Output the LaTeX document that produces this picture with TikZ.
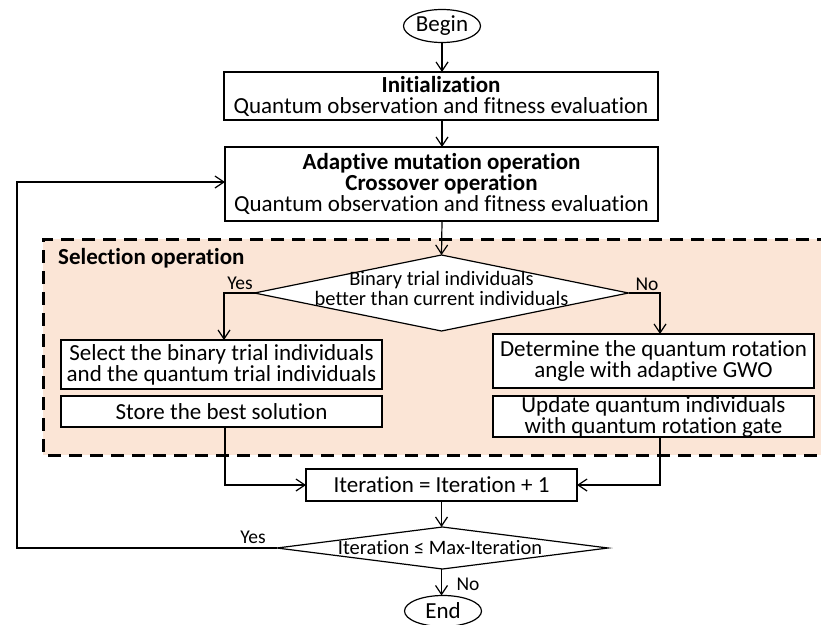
\documentclass[tikz,border=0pt]{standalone}
\usepackage{fontspec}
\setmainfont{Carlito}[Ligatures={NoCommon}]
\usetikzlibrary{arrows.meta,shapes.geometric}
\definecolor{selfill}{HTML}{FBE5D6}
\begin{document}
\begin{tikzpicture}[x=1pt,y=-1pt,
  font=\fontsize{23}{21}\selectfont,
  box/.style={draw, line width=1.2pt, fill=white, inner sep=0pt, outer sep=0pt, align=center},
  terminal/.style={draw, ellipse, line width=1.2pt, fill=white, inner sep=0pt, outer sep=0pt},
  decision/.style={draw, diamond, line width=1.2pt, fill=white, inner sep=0pt, outer sep=0pt},
  dtext/.style={inner sep=0pt, align=center, font=\fontsize{20.5}{20}\selectfont},
  flow/.style={line width=1.2pt, -{Straight Barb[length=9pt,width=12pt,line width=1.2pt]}},
  lbl/.style={inner sep=0pt, font=\fontsize{19.5}{20}\selectfont},
]
\useasboundingbox (0,0) rectangle (821,624);

% selection operation region
\fill[selfill] (43,239) rectangle (830,455);
\draw[line width=3pt, dash pattern=on 13pt off 8pt] (830,239) -- (43,239) -- (43,455) -- (830,455);
\node[anchor=west, inner sep=0pt, font=\fontsize{23}{21}\selectfont\bfseries] (seltitle) at (58,258) {Selection operation};

% nodes
\node[terminal, minimum width=77pt, minimum height=33pt] (begin) at (442,26) {Begin};
\node[box, minimum width=434pt, minimum height=48pt] (init) at (441,96)
  {\textbf{Initialization}\\Quantum observation and fitness evaluation};
\node[box, minimum width=433pt, minimum height=74pt] (adapt) at (441.5,184)
  {\textbf{Adaptive mutation operation}\\\textbf{Crossover operation}\\Quantum observation and fitness evaluation};

\node[decision, minimum width=374pt, minimum height=76pt] (d1) at (441.5,293) {};
\node[dtext] (d1t) at (441.5,288) {Binary trial individuals\\better than current individuals};

\node[box, minimum width=321pt, minimum height=49pt] (sel) at (221.5,364.5)
  {Select the binary trial individuals\\and the quantum trial individuals};
\node[box, minimum width=321pt, minimum height=31pt] (store) at (221.5,411.5) {Store the best solution};

\node[box, minimum width=321pt, minimum height=54pt] (det) at (653.5,361)
  {Determine the quantum rotation\\angle with adaptive GWO};
\node[box, minimum width=321pt, minimum height=39pt] (upd) at (653.5,416.5)
  {Update quantum individuals\\with quantum rotation gate};

\node[box, minimum width=271pt, minimum height=32pt] (iter) at (441.5,485) {Iteration = Iteration + 1};

\node[decision, minimum width=331pt, minimum height=42pt] (d2) at (442.5,548) {};
\node[dtext] (d2t) at (440,548) {Iteration ≤ Max-Iteration};

\node[terminal, minimum width=77pt, minimum height=31pt] (end) at (443,611) {End};

% connectors
\draw[flow] (begin) -- (init.north -| begin);
\draw[flow] (init.south -| begin) -- (adapt.north -| begin);
\draw[flow] (adapt.south -| begin) -- (d1.north);

\coordinate (yesturn) at (224,293);
\coordinate (noturn) at (660,293);
\draw[flow] (d1.west) -- (yesturn) -- (sel.north -| yesturn);
\draw[flow] (d1.east) -- (noturn) -- (det.north -| noturn);

\coordinate (lturn) at (225,485);
\coordinate (rturn) at (660,485);
\draw[flow] (store.south -| lturn) -- (lturn) -- (iter.west);
\draw[flow] (upd.south -| rturn) -- (rturn) -- (iter.east);

\draw[flow] (iter.south -| d1.north) -- (d2.north -| d1.north);
\coordinate (loopbot) at (17,548);
\coordinate (looptop) at (17,182);
\draw[flow] (d2.west) -- (loopbot) -- (looptop) -- (looptop -| adapt.west);
\draw[flow] (d2.south -| d1.north) -- (end.north -| d1.north);

% branch labels
\node[lbl] (y1) at (240,283) {Yes};
\node[lbl] (n1) at (647,284) {No};
\node[lbl] (y2) at (253,537) {Yes};
\node[lbl] (n2) at (468,584) {No};
\end{tikzpicture}
\end{document}
